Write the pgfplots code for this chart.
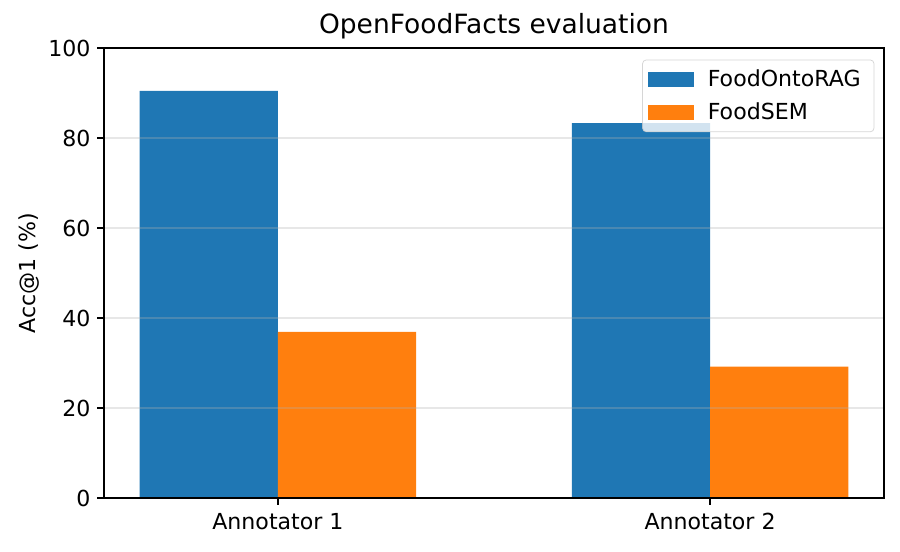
\documentclass[border=0pt]{standalone}
\usepackage{pgfplots}
\pgfplotsset{compat=1.18}
\usepackage{fontspec}
\setmainfont{DejaVu Sans}
\definecolor{mplblue}{HTML}{1F77B4}
\definecolor{mplorange}{HTML}{FF7F0E}
\definecolor{mplgrid}{HTML}{B0B0B0}
\begin{document}
\begin{tikzpicture}
\begin{axis}[
  name=ax,
  scale only axis,
  width=406.25pt, height=234.4pt,
  xmin=-0.4025, xmax=1.4025,
  ymin=0, ymax=100,
  xtick={0,1},
  xticklabels={Annotator 1, Annotator 2},
  ytick={0,20,...,100},
  ymajorgrids,
  axis on top,
  grid style={mplgrid, opacity=0.3, line width=0.8pt},
  tick align=outside,
  major tick length=3.5pt,
  tick style={black, line width=0.8pt},
  axis line style={line width=0.8pt},
  xtick pos=bottom, ytick pos=left,
  tick label style={font=\fontsize{11.5}{13}\selectfont},
  xticklabel style={yshift=-1pt},
  /pgf/number format/assume math mode=true,
  ylabel={Acc@1 (\%)},
  ylabel style={font=\fontsize{11.5}{13}\selectfont, yshift=-2pt},
  title={OpenFoodFacts evaluation},
  title style={font=\fontsize{13.8}{16}\selectfont, yshift=-5pt},
  ybar, bar shift=0pt, bar width=0.32,
  legend style={at={(1,1)}, anchor=north east, xshift=-5pt, yshift=-6pt,
    font=\fontsize{11.5}{13}\selectfont, draw=black!20, fill=white,
    fill opacity=0.8, draw opacity=0.8, text opacity=1,
    rounded corners=2pt, inner sep=3pt, row sep=3pt,
    nodes={inner xsep=4pt}},
  legend cell align=left,
  legend image code/.code={\fill[#1, fill opacity=1, sharp corners] (0pt,-4pt) rectangle (24pt,4pt);
    \path (27pt,0pt);},
]
\addplot[fill=mplblue, draw=none] coordinates {(-0.16,90.5) (0.84,83.3)};
\addplot[fill=mplorange, draw=none] coordinates {(0.16,36.9) (1.16,29.2)};
\legend{FoodOntoRAG, FoodSEM}
\end{axis}
\path[use as bounding box] ([xshift=-54.17pt,yshift=-27.6pt]ax.south west) rectangle ([xshift=8.33pt,yshift=25pt]ax.north east);
\end{tikzpicture}
\end{document}
